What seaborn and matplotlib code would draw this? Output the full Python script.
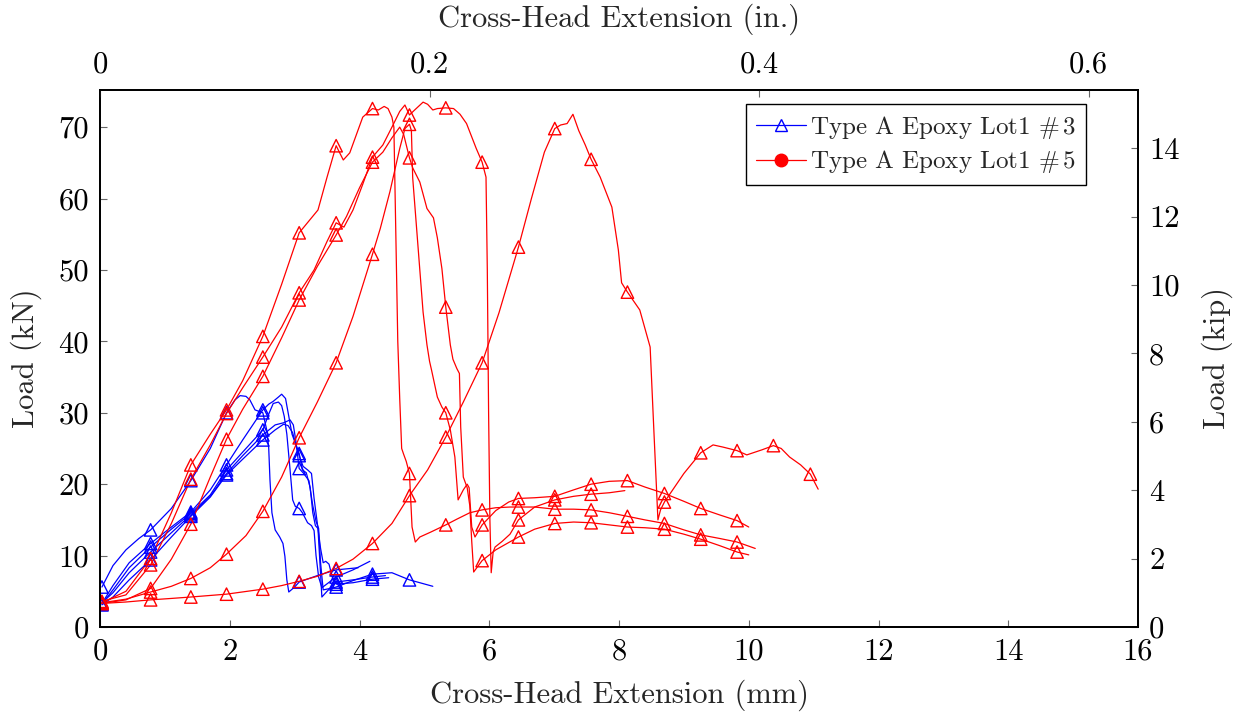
import numpy as np
import pandas as pd
import matplotlib
matplotlib.use("Agg")
import matplotlib.pyplot as plt
import seaborn as sns
from matplotlib.lines import Line2D

# ---------------- data ----------------
# x positions (mm) at which the plotted samples carry a marker
marker_x = [0.03, 0.78, 1.40, 1.95, 2.51, 3.07, 3.64, 4.20, 4.77, 5.33, 5.89,
            6.45, 7.01, 7.57, 8.13, 8.70, 9.26, 9.82, 10.38, 10.95]

# Type A Epoxy Lot1 #3 (blue)
b1_x = [0.03, 0.2, 0.4, 0.6, 0.78, 1.1, 1.40, 1.7, 1.95, 2.08, 2.16, 2.25, 2.31, 2.39, 2.51,
        2.57, 2.60, 2.62, 2.65, 2.70, 2.77, 2.82, 2.85, 2.88, 2.91, 3.0, 3.07, 3.35, 3.64, 3.98]
b1_y = [5.6, 8.6, 10.8, 12.4, 13.6, 16.6, 20.5, 25.0, 30.0, 31.8, 32.4, 32.3, 31.8, 30.4, 30.0,
        27.6, 25.2, 20.6, 16.0, 13.6, 12.6, 11.7, 9.9, 6.6, 4.9, 5.6, 6.3, 7.2, 8.0, 8.3]

b2_x = [0.03, 0.2, 0.45, 0.78, 1.1, 1.40, 1.7, 1.95, 2.2, 2.51, 2.6, 2.67, 2.75, 2.80, 2.86, 2.90,
        2.96, 3.02, 3.07, 3.12, 3.18, 3.24, 3.28, 3.32, 3.36, 3.39, 3.42, 3.5, 3.64, 3.9, 4.20, 4.4]
b2_y = [3.3, 5.8, 9.0, 11.7, 14.0, 16.1, 19.2, 22.7, 26.2, 30.4, 31.2, 31.6, 32.2, 32.6, 32.0, 30.0,
        27.0, 25.5, 24.3, 22.0, 21.6, 19.5, 16.0, 14.2, 13.8, 9.0, 4.2, 5.0, 6.3, 6.6, 7.0, 7.2]

b3_x = [0.03, 0.2, 0.45, 0.78, 1.1, 1.40, 1.7, 1.95, 2.2, 2.51, 2.6, 2.67, 2.75, 2.80, 2.84,
        2.88, 2.93, 2.97, 3.01, 3.07, 3.12, 3.2, 3.26, 3.3, 3.33, 3.37, 3.42, 3.64, 3.9, 4.16]
b3_y = [3.2, 5.2, 8.3, 11.2, 13.7, 15.9, 18.5, 22.0, 24.5, 27.6, 29.8, 31.3, 31.5, 31.0, 29.5,
        27.0, 22.0, 17.8, 16.9, 16.6, 16.0, 14.6, 14.2, 13.5, 10.0, 7.0, 5.5, 7.0, 8.0, 9.2]

b4_x = [0.03, 0.2, 0.45, 0.78, 1.1, 1.40, 1.7, 1.95, 2.2, 2.51, 2.7, 2.83, 2.93, 2.98, 3.02,
        3.07, 3.14, 3.22, 3.28, 3.33, 3.37, 3.40, 3.44, 3.55, 3.64, 3.9, 4.20, 4.5, 4.77, 5.13]
b4_y = [3.4, 4.8, 7.6, 10.5, 13.2, 15.7, 18.3, 21.5, 24.0, 26.9, 28.3, 28.6, 29.0, 28.3, 26.0,
        22.2, 21.5, 20.5, 17.0, 14.8, 13.8, 9.0, 5.2, 5.4, 5.6, 6.5, 7.4, 7.6, 6.6, 5.7]

b5_x = [0.03, 0.2, 0.45, 0.78, 1.1, 1.40, 1.7, 1.95, 2.2, 2.51, 2.7, 2.83, 2.90, 2.97, 3.02,
        3.07, 3.13, 3.20, 3.26, 3.30, 3.35, 3.40, 3.44, 3.48, 3.53, 3.58, 3.64, 3.9, 4.20, 4.45]
b5_y = [3.1, 4.2, 6.6, 9.4, 12.6, 15.5, 18.2, 21.3, 23.5, 26.2, 27.6, 28.4, 28.2, 27.2, 25.5,
        24.0, 22.5, 22.0, 21.5, 18.0, 14.5, 11.0, 9.0, 9.2, 8.8, 7.0, 6.0, 6.2, 6.7, 6.9]

# Type A Epoxy Lot1 #5 (red)
r1_x = [0.03, 0.4, 0.78, 1.1, 1.40, 1.7, 1.95, 2.2, 2.51, 2.8, 3.07, 3.36, 3.5, 3.64, 3.75, 3.85,
        4.05, 4.20, 4.29, 4.38, 4.44, 4.50, 4.53, 4.56, 4.59, 4.62, 4.65, 4.68, 4.72, 4.77, 4.81,
        4.86, 4.93, 5.1, 5.33, 5.5, 5.7, 5.89, 6.1, 6.32, 6.45, 6.7, 7.01, 7.3, 7.57, 7.85, 8.13,
        8.4, 8.70, 9.0, 9.26, 9.55, 9.82, 10.1]
r1_y = [3.4, 5.0, 9.6, 16.0, 22.7, 27.0, 30.4, 34.5, 40.7, 48.0, 55.2, 58.4, 63.0, 67.4, 65.4, 66.4,
        71.4, 72.6, 72.4, 72.9, 72.6, 71.4, 70.0, 55.0, 40.0, 32.0, 25.0, 24.2, 23.2, 21.5, 14.0,
        11.9, 12.6, 13.3, 14.3, 15.1, 16.0, 16.4, 16.7, 16.8, 16.8, 16.8, 16.5, 16.5, 16.4, 16.0, 15.5,
        15.0, 14.5, 13.6, 12.9, 12.4, 11.9, 11.0]

r2_x = [0.03, 0.4, 0.78, 1.1, 1.40, 1.7, 1.95, 2.2, 2.51, 2.8, 3.07, 3.3, 3.5, 3.64, 3.76, 3.9,
        4.05, 4.20, 4.36, 4.5, 4.62, 4.70, 4.77, 4.85, 4.98, 5.05, 5.13, 5.20, 5.33, 5.45, 5.55,
        5.65, 5.80, 5.89, 5.95, 5.97, 5.99, 6.01, 6.03, 6.06, 6.09, 6.2, 6.32, 6.45, 6.7, 7.01,
        7.3, 7.57, 7.85, 8.09]
r2_y = [3.6, 4.5, 8.7, 14.5, 20.7, 25.5, 29.9, 33.5, 37.8, 42.0, 46.8, 50.0, 54.0, 56.6, 56.0, 58.4,
        62.0, 65.8, 67.5, 70.0, 72.2, 73.1, 71.7, 72.4, 73.5, 73.2, 72.4, 72.6, 72.7, 72.6, 71.8,
        70.5, 67.0, 65.1, 63.0, 50.0, 30.0, 15.0, 7.6, 10.5, 11.2, 12.0, 13.0, 15.0, 16.8, 17.8,
        18.3, 18.6, 18.8, 19.1]

r3_x = [0.03, 0.4, 0.78, 1.1, 1.40, 1.7, 1.95, 2.2, 2.51, 2.8, 3.07, 3.35, 3.64, 3.8, 4.0, 4.20,
        4.36, 4.5, 4.62, 4.68, 4.77, 4.82, 4.93, 5.04, 5.14, 5.20, 5.27, 5.33, 5.40, 5.44, 5.50,
        5.54, 5.56, 5.60, 5.66, 5.70, 5.73, 5.76, 5.80, 5.89, 6.1, 6.45, 6.7, 7.01, 7.3, 7.57,
        7.85, 8.13, 8.4, 8.70, 9.0, 9.26, 9.55, 9.82, 10.0]
r3_y = [3.3, 3.8, 5.4, 9.5, 14.4, 21.0, 26.3, 30.5, 35.1, 40.5, 45.8, 50.5, 54.9, 57.5, 61.5, 65.1,
        66.5, 68.5, 70.0, 69.0, 65.7, 64.3, 62.3, 58.6, 57.3, 54.5, 50.2, 44.8, 39.5, 37.5, 36.2,
        35.5, 28.0, 21.0, 19.5, 17.0, 12.0, 7.7, 8.2, 9.3, 10.8, 12.6, 13.7, 14.5, 14.7, 14.6,
        14.3, 14.0, 13.9, 13.7, 13.0, 12.3, 11.4, 10.5, 10.1]

r4_x = [0.03, 0.4, 0.78, 1.1, 1.40, 1.7, 1.95, 2.25, 2.51, 2.8, 3.07, 3.35, 3.64, 3.9, 4.20, 4.32,
        4.47, 4.62, 4.70, 4.77, 4.80, 4.82, 4.90, 4.98, 5.04, 5.08, 5.11, 5.20, 5.27, 5.33, 5.40,
        5.47, 5.52, 5.60, 5.66, 5.69, 5.73, 5.78, 5.89, 6.1, 6.3, 6.45, 6.7, 7.01, 7.3, 7.57,
        7.85, 8.13, 8.4, 8.70, 9.0, 9.26, 9.55, 9.82, 10.0]
r4_y = [3.4, 3.9, 4.9, 5.7, 6.8, 8.3, 10.2, 12.8, 16.2, 21.0, 26.5, 31.5, 37.0, 43.5, 52.2, 55.8,
        61.0, 67.0, 69.8, 70.4, 69.5, 62.9, 53.5, 44.1, 39.5, 37.2, 36.0, 32.2, 30.8, 30.0, 27.6,
        23.8, 17.8, 19.2, 20.0, 19.5, 14.0, 12.6, 14.3, 16.3, 17.5, 18.0, 18.1, 18.3, 19.2, 20.0,
        20.4, 20.5, 19.6, 18.7, 17.6, 16.6, 15.7, 14.9, 14.0]

r5_x = [0.03, 0.4, 0.78, 1.1, 1.40, 1.95, 2.51, 2.8, 3.07, 3.35, 3.64, 3.9, 4.20, 4.5, 4.77, 5.05,
        5.33, 5.6, 5.89, 6.15, 6.45, 6.65, 6.85, 7.01, 7.1, 7.2, 7.29, 7.38, 7.48, 7.57, 7.71,
        7.89, 7.99, 8.04, 8.13, 8.32, 8.48, 8.54, 8.60, 8.64, 8.70, 9.0, 9.26, 9.45, 9.6, 9.82,
        9.97, 10.2, 10.38, 10.5, 10.63, 10.8, 10.95, 11.07]
r5_y = [3.3, 3.5, 3.8, 4.0, 4.2, 4.6, 5.3, 5.8, 6.4, 7.1, 8.2, 9.5, 11.7, 14.5, 18.4, 22.0,
        26.6, 31.5, 37.0, 44.0, 53.2, 60.0, 66.5, 69.8, 70.3, 70.5, 71.8, 69.5, 67.5, 65.5, 63.0,
        58.8, 52.8, 48.2, 46.9, 44.4, 39.2, 27.0, 15.0, 16.4, 17.5, 21.5, 24.4, 25.5, 25.2, 24.7,
        24.1, 24.8, 25.4, 25.0, 23.8, 22.7, 21.4, 19.3]

series_names = ["Type A Epoxy Lot1 #3", "Type A Epoxy Lot1 #5"]
legend_labels = [r"Type A Epoxy Lot1 $\#\,3$", r"Type A Epoxy Lot1 $\#\,5$"]
series_colors = ["#0000ff", "#ff0000"]

x_ticks = [0, 2, 4, 6, 8, 10, 12, 14, 16]
x_tick_labels = ["0", "2", "4", "6", "8", "10", "12", "14", "16"]
y_ticks = [0, 10, 20, 30, 40, 50, 60, 70]
y_tick_labels = ["0", "10", "20", "30", "40", "50", "60", "70"]
kip_ticks = [0, 2, 4, 6, 8, 10, 12, 14]
kip_tick_labels = ["0", "2", "4", "6", "8", "10", "12", "14"]
in_ticks = [0, 0.2, 0.4, 0.6]
in_tick_labels = ["0", "0.2", "0.4", "0.6"]

# ---------------- table ----------------
curves = [
    ("b1", series_names[0], b1_x, b1_y), ("b2", series_names[0], b2_x, b2_y),
    ("b3", series_names[0], b3_x, b3_y), ("b4", series_names[0], b4_x, b4_y),
    ("b5", series_names[0], b5_x, b5_y),
    ("r1", series_names[1], r1_x, r1_y), ("r2", series_names[1], r2_x, r2_y),
    ("r3", series_names[1], r3_x, r3_y), ("r4", series_names[1], r4_x, r4_y),
    ("r5", series_names[1], r5_x, r5_y),
]
frames = []
for cid, lot, xs, ys in curves:
    f = pd.DataFrame({"x": xs, "y": ys})
    f["curve"] = cid
    f["lot"] = lot
    frames.append(f)
df = pd.concat(frames, ignore_index=True)
mk = np.array(marker_x)
df["marked"] = df["x"].apply(lambda v: bool(np.isclose(v, mk, atol=1e-6).any()))

# ---------------- plotting ----------------
sns.set_style("white")
plt.rcParams.update({
    "font.family": "cmr10",
    "mathtext.fontset": "cm",
    "axes.formatter.use_mathtext": True,
    "axes.unicode_minus": False,
})

fig = plt.figure(figsize=(12.35, 7.13), dpi=100)
ax = fig.add_axes([100 / 1235, 1 - 627 / 713, 1038 / 1235, 537 / 713])

for lot, col in zip(series_names, series_colors):
    sub = df[df["lot"] == lot]
    sns.lineplot(data=sub, x="x", y="y", units="curve", estimator=None, sort=False,
                 color=col, linewidth=0.9, ax=ax, legend=False)
for lot, col in zip(series_names, series_colors):
    sub = df[(df["lot"] == lot) & df["marked"]]
    sns.scatterplot(data=sub, x="x", y="y", marker="^", s=80, color=col,
                    facecolor="none", edgecolor=col, linewidth=1.0, ax=ax,
                    legend=False, zorder=3)

FS = 22
tick_kw = dict(direction="in", length=5, width=0.8, color="#666666",
               labelsize=FS, labelcolor="black")

ax.set_xlim(0, 16)
ax.set_ylim(0, 75.2)
ax.set_xticks(x_ticks)
ax.set_xticklabels(x_tick_labels)
ax.set_yticks(y_ticks)
ax.set_yticklabels(y_tick_labels)
ax.tick_params(axis="both", which="both", top=False, right=False, pad=8, **tick_kw)
ax.set_xlabel("Cross-Head Extension (mm)", fontsize=FS, labelpad=10)
ax.set_ylabel("Load (kN)", fontsize=FS, labelpad=12)

ax2 = ax.twinx()
ax2.set_ylim(0, 15.7)
ax2.set_yticks(kip_ticks)
ax2.set_yticklabels(kip_tick_labels)
ax2.tick_params(axis="y", pad=8, **tick_kw)
ax2.set_ylabel("Load (kip)", fontsize=FS, labelpad=16)

ax3 = ax.twiny()
ax3.set_xlim(0, 16 / 25.4)
ax3.set_xticks(in_ticks)
ax3.set_xticklabels(in_tick_labels)
ax3.tick_params(axis="x", pad=8, **tick_kw)
ax3.set_xlabel("Cross-Head Extension (in.)", fontsize=FS, labelpad=18)

for a in (ax, ax2, ax3):
    for sp in a.spines.values():
        sp.set_color("black")
        sp.set_linewidth(1.2)
    a.grid(False)

handles = [
    Line2D([], [], color=series_colors[0], marker="^", markersize=8,
           markerfacecolor="none", markeredgewidth=1.0, linewidth=0.9),
    Line2D([], [], color=series_colors[1], marker="o", markersize=9,
           markerfacecolor=series_colors[1], linewidth=0.9),
]
leg = ax3.legend(handles, legend_labels, loc="upper right", bbox_to_anchor=(0.950, 0.974),
                 fontsize=18, frameon=True, fancybox=False, edgecolor="black", framealpha=1,
                 borderaxespad=0, handlelength=2.0, handletextpad=0.15, borderpad=0.4,
                 labelspacing=0.3)
leg.get_frame().set_linewidth(1.0)

fig.savefig("out.png", dpi=100)
